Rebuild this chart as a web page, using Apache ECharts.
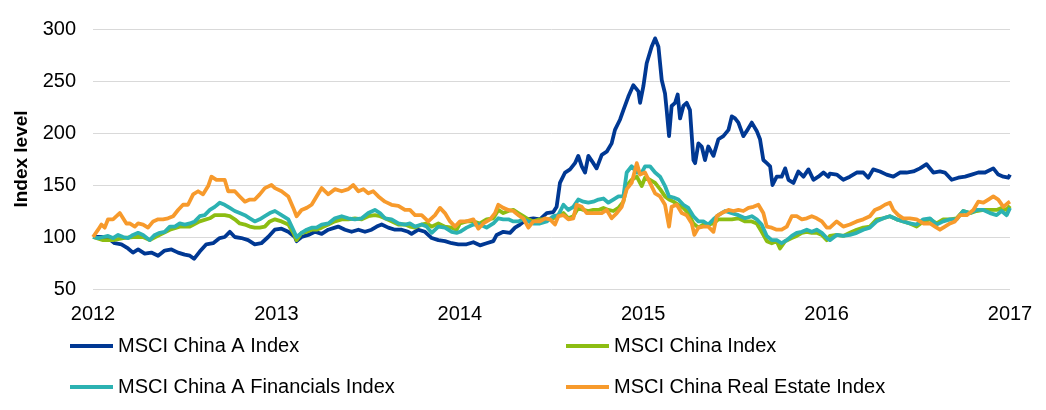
<!DOCTYPE html>
<html>
<head>
<meta charset="utf-8">
<script src="https://cdn.jsdelivr.net/npm/echarts@6/dist/echarts.min.js"></script>
<style>
html,body{margin:0;padding:0;background:#fff;}
#c{width:1046px;height:410px;}
</style>
</head>
<body>
<div id="c"></div>
<script>
// x values are fractional years, y values are index levels
const yearTicks = [2012, 2013, 2014, 2015, 2016, 2017];
const seriesNames = ['MSCI China A Index', 'MSCI China Index', 'MSCI China A Financials Index', 'MSCI China Real Estate Index'];

const chinaA = [
[2012.000,100],[2012.046,100],[2012.082,99],[2012.118,94],[2012.155,93],[2012.191,89],[2012.218,85],[2012.246,88],[2012.282,84],[2012.318,85],[2012.355,82],[2012.391,87],[2012.428,88],[2012.464,85],[2012.500,83],[2012.528,82],[2012.551,79],[2012.582,86],[2012.618,93],[2012.655,94],[2012.691,99],[2012.718,100],[2012.746,105],[2012.773,100],[2012.809,99],[2012.846,97],[2012.882,93],[2012.918,94],[2012.955,100],[2012.991,107],
[2013.028,108],[2013.065,105],[2013.101,100],[2013.110,96],[2013.137,100],[2013.174,102],[2013.210,105],[2013.247,103],[2013.283,107],[2013.319,109],[2013.337,110],[2013.374,107],[2013.410,105],[2013.447,107],[2013.483,105],[2013.519,107],[2013.547,110],[2013.574,112],[2013.610,109],[2013.647,107],[2013.683,107],[2013.719,105],[2013.737,103],[2013.774,107],[2013.810,105],[2013.847,99],[2013.883,97],[2013.919,96],[2013.956,94],[2013.992,93],
[2014.037,93],[2014.074,95],[2014.110,92],[2014.146,94],[2014.183,96],[2014.201,102],[2014.237,105],[2014.274,104],[2014.301,109],[2014.328,112],[2014.365,117],[2014.401,118],[2014.437,117],[2014.474,123],[2014.510,124],[2014.528,129],[2014.546,152],[2014.574,162],[2014.601,165],[2014.628,171],[2014.646,178],[2014.665,168],[2014.683,162],[2014.701,178],[2014.728,171],[2014.746,166],[2014.774,179],[2014.801,182],[2014.828,190],[2014.846,203],[2014.874,213],[2014.892,222],[2014.919,235],[2014.946,246],[2014.974,240],[2014.983,229],[2015.001,245],[2015.019,267],[2015.046,283],[2015.065,291],
[2015.083,283],[2015.101,251],[2015.119,238],[2015.128,222],[2015.141,197],[2015.155,226],[2015.174,229],[2015.188,237],[2015.201,214],[2015.219,226],[2015.237,229],[2015.255,222],[2015.274,174],[2015.283,171],[2015.301,190],[2015.319,187],[2015.337,174],[2015.355,187],[2015.383,178],[2015.410,194],[2015.437,197],[2015.465,203],[2015.483,216],[2015.501,214],[2015.519,210],[2015.546,197],[2015.565,202],[2015.592,210],[2015.619,202],[2015.637,194],[2015.655,174],[2015.674,171],[2015.692,168],[2015.705,150],[2015.728,158],[2015.755,158],[2015.774,166],[2015.792,155],[2015.819,152],[2015.846,163],[2015.874,158],[2015.901,165],[2015.928,155],[2015.955,158],[2015.983,162],[2016.010,158],
[2016.018,161],[2016.055,160],[2016.091,155],[2016.127,158],[2016.164,162],[2016.200,162],[2016.227,157],[2016.254,165],[2016.291,163],[2016.327,160],[2016.364,158],[2016.400,162],[2016.436,162],[2016.473,163],[2016.509,166],[2016.545,170],[2016.582,162],[2016.618,163],[2016.645,162],[2016.682,155],[2016.718,157],[2016.755,158],[2016.791,160],[2016.827,162],[2016.864,162],[2016.909,166],[2016.936,160],[2016.964,158],[2016.991,157],[2017.000,160]
];

const china = [
[2012.000,100],[2012.055,97],[2012.109,97],[2012.164,99],[2012.218,100],[2012.273,100],[2012.309,97],[2012.364,102],[2012.419,107],[2012.473,110],[2012.528,110],[2012.582,115],[2012.637,118],[2012.664,121],[2012.691,121],[2012.718,121],[2012.746,120],[2012.773,117],[2012.800,113],[2012.828,112],[2012.855,110],[2012.882,109],[2012.909,109],[2012.937,110],[2012.964,115],
[2012.992,117],[2013.028,115],[2013.065,112],[2013.092,104],[2013.110,97],[2013.137,104],[2013.165,105],[2013.192,107],[2013.219,107],[2013.247,109],[2013.283,112],[2013.319,115],[2013.356,117],[2013.392,117],[2013.428,118],[2013.465,117],[2013.501,120],[2013.537,121],[2013.565,120],[2013.592,118],[2013.628,115],[2013.665,112],[2013.701,112],[2013.728,110],[2013.756,109],[2013.792,112],[2013.819,113],[2013.847,110],[2013.883,113],[2013.919,110],[2013.956,109],[2013.983,107],
[2014.001,113],[2014.037,115],[2014.074,115],[2014.110,113],[2014.146,117],[2014.183,118],[2014.210,126],[2014.237,123],[2014.265,125],[2014.292,126],[2014.319,123],[2014.346,120],[2014.374,117],[2014.401,115],[2014.437,117],[2014.474,117],[2014.510,118],[2014.537,120],[2014.565,123],[2014.592,118],[2014.619,120],[2014.646,128],[2014.674,126],[2014.701,125],[2014.728,126],[2014.756,126],[2014.783,128],[2014.810,126],[2014.837,125],[2014.865,128],[2014.892,134],[2014.910,149],[2014.937,155],[2014.965,158],[2014.992,149],
[2015.010,157],[2015.037,155],[2015.065,152],[2015.092,146],[2015.119,139],[2015.141,136],[2015.165,134],[2015.192,131],[2015.219,128],[2015.246,123],[2015.274,113],[2015.301,109],[2015.328,112],[2015.355,112],[2015.383,113],[2015.410,117],[2015.446,117],[2015.483,117],[2015.519,118],[2015.556,115],[2015.592,115],[2015.619,113],[2015.646,105],[2015.674,96],[2015.701,94],[2015.728,96],[2015.746,89],[2015.774,96],[2015.810,99],[2015.837,101],[2015.865,104],[2015.892,105],[2015.919,104],[2015.946,104],[2015.974,102],[2016.001,97],
[2016.018,101],[2016.055,102],[2016.091,101],[2016.127,104],[2016.164,107],[2016.200,109],[2016.236,110],[2016.273,117],[2016.309,118],[2016.345,120],[2016.382,117],[2016.418,115],[2016.454,113],[2016.491,110],[2016.527,115],[2016.564,117],[2016.600,113],[2016.636,117],[2016.673,117],[2016.709,118],[2016.745,125],[2016.782,123],[2016.818,125],[2016.855,126],[2016.891,126],[2016.927,126],[2016.954,128],[2016.982,126],[2017.000,130]
];

const chinaAFin = [
[2012.000,100],[2012.028,99],[2012.055,100],[2012.082,101],[2012.109,99],[2012.137,102],[2012.164,100],[2012.191,99],[2012.218,102],[2012.246,104],[2012.273,102],[2012.309,97],[2012.337,102],[2012.364,104],[2012.391,105],[2012.419,110],[2012.446,110],[2012.473,113],[2012.500,112],[2012.528,113],[2012.555,115],[2012.582,120],[2012.609,121],[2012.637,126],[2012.664,129],[2012.691,133],[2012.718,131],[2012.746,128],[2012.773,125],[2012.800,123],[2012.828,121],[2012.855,118],[2012.882,115],[2012.909,117],[2012.937,120],[2012.964,123],
[2012.992,125],[2013.028,121],[2013.065,117],[2013.092,107],[2013.110,100],[2013.137,104],[2013.165,107],[2013.192,109],[2013.219,109],[2013.247,112],[2013.283,113],[2013.319,118],[2013.356,120],[2013.392,118],[2013.428,117],[2013.465,118],[2013.501,123],[2013.537,126],[2013.565,123],[2013.592,118],[2013.628,117],[2013.665,113],[2013.701,112],[2013.728,113],[2013.756,110],[2013.792,112],[2013.819,110],[2013.847,104],[2013.883,110],[2013.919,109],[2013.956,105],[2013.983,104],
[2014.001,105],[2014.037,109],[2014.074,112],[2014.110,112],[2014.146,109],[2014.183,113],[2014.210,118],[2014.237,117],[2014.265,117],[2014.292,115],[2014.319,115],[2014.346,117],[2014.374,115],[2014.401,113],[2014.437,113],[2014.474,115],[2014.510,120],[2014.537,121],[2014.565,131],[2014.592,126],[2014.619,129],[2014.646,136],[2014.674,134],[2014.701,133],[2014.728,134],[2014.756,136],[2014.783,137],[2014.810,133],[2014.837,136],[2014.865,139],[2014.892,139],[2014.910,162],[2014.937,168],[2014.965,162],[2014.992,162],
[2015.010,168],[2015.037,168],[2015.065,162],[2015.092,158],[2015.119,149],[2015.141,139],[2015.165,138],[2015.192,136],[2015.219,131],[2015.246,128],[2015.274,120],[2015.301,115],[2015.328,115],[2015.355,112],[2015.383,117],[2015.410,121],[2015.446,125],[2015.483,123],[2015.519,121],[2015.556,118],[2015.592,120],[2015.619,117],[2015.646,112],[2015.674,101],[2015.701,97],[2015.728,97],[2015.755,94],[2015.783,97],[2015.810,101],[2015.837,104],[2015.865,105],[2015.892,107],[2015.919,105],[2015.946,107],[2015.974,104],[2016.001,99],
[2016.018,97],[2016.055,102],[2016.091,101],[2016.127,102],[2016.164,104],[2016.200,107],[2016.236,109],[2016.273,115],[2016.309,118],[2016.345,120],[2016.382,117],[2016.418,115],[2016.454,113],[2016.491,112],[2016.527,117],[2016.564,118],[2016.600,112],[2016.636,115],[2016.673,117],[2016.709,117],[2016.745,125],[2016.782,123],[2016.818,126],[2016.855,126],[2016.891,123],[2016.927,121],[2016.954,125],[2016.982,121],[2017.000,128]
];

const chinaRealEstate = [
[2012.000,100],[2012.028,107],[2012.046,112],[2012.064,109],[2012.082,117],[2012.109,117],[2012.128,120],[2012.146,123],[2012.164,118],[2012.182,113],[2012.200,113],[2012.228,110],[2012.246,113],[2012.273,112],[2012.300,109],[2012.328,115],[2012.355,117],[2012.382,117],[2012.409,118],[2012.437,120],[2012.464,126],[2012.491,131],[2012.518,131],[2012.546,141],[2012.573,144],[2012.600,141],[2012.628,149],[2012.646,158],[2012.673,155],[2012.700,155],[2012.718,155],[2012.737,144],[2012.773,144],[2012.800,139],[2012.828,134],[2012.855,136],[2012.882,136],[2012.909,141],[2012.937,147],[2012.973,150],
[2012.992,147],[2013.028,144],[2013.065,139],[2013.092,128],[2013.110,120],[2013.137,126],[2013.165,128],[2013.192,131],[2013.219,139],[2013.247,147],[2013.283,141],[2013.319,146],[2013.356,144],[2013.392,146],[2013.419,150],[2013.447,144],[2013.474,146],[2013.501,142],[2013.528,144],[2013.556,139],[2013.592,134],[2013.628,131],[2013.665,130],[2013.701,126],[2013.728,126],[2013.756,121],[2013.792,121],[2013.828,115],[2013.865,121],[2013.892,128],[2013.919,123],[2013.947,115],[2013.974,110],
[2014.001,115],[2014.037,115],[2014.074,117],[2014.101,108],[2014.128,113],[2014.165,117],[2014.192,123],[2014.210,131],[2014.237,128],[2014.265,126],[2014.292,125],[2014.319,121],[2014.346,118],[2014.374,109],[2014.401,115],[2014.437,115],[2014.465,118],[2014.492,117],[2014.519,112],[2014.537,120],[2014.565,121],[2014.592,117],[2014.619,118],[2014.637,131],[2014.665,129],[2014.692,123],[2014.719,123],[2014.746,123],[2014.774,123],[2014.801,126],[2014.828,118],[2014.856,123],[2014.883,129],[2014.910,146],[2014.937,152],[2014.965,171],[2014.983,160],[2015.010,162],
[2015.037,152],[2015.065,142],[2015.092,139],[2015.119,131],[2015.141,110],[2015.155,129],[2015.183,131],[2015.210,123],[2015.237,121],[2015.265,113],[2015.279,102],[2015.301,109],[2015.328,110],[2015.355,110],[2015.383,105],[2015.401,120],[2015.428,123],[2015.465,126],[2015.492,125],[2015.519,126],[2015.546,125],[2015.574,128],[2015.601,129],[2015.628,131],[2015.655,123],[2015.674,110],[2015.701,109],[2015.728,107],[2015.755,107],[2015.783,110],[2015.810,120],[2015.837,120],[2015.865,117],[2015.892,118],[2015.919,120],[2015.946,118],[2015.974,115],[2016.001,109],
[2016.018,109],[2016.055,115],[2016.091,110],[2016.127,112],[2016.164,115],[2016.200,117],[2016.236,120],[2016.263,126],[2016.291,128],[2016.318,131],[2016.345,133],[2016.364,126],[2016.391,121],[2016.418,118],[2016.454,118],[2016.491,117],[2016.527,113],[2016.564,113],[2016.591,110],[2016.618,107],[2016.645,110],[2016.673,113],[2016.700,115],[2016.727,121],[2016.764,121],[2016.800,126],[2016.827,134],[2016.855,133],[2016.882,136],[2016.909,139],[2016.936,136],[2016.964,129],[2016.991,133],[2017.000,134]
];

const colors = ['#003893', '#8cbd12', '#2cb2b2', '#f79a2c'];
const font = '"Liberation Sans", Arial, sans-serif';

const chart = echarts.init(document.getElementById('c'), null, {renderer: 'canvas'});

function lineSeries(name, data, color) {
  return {
    name: name, type: 'line', data: data, showSymbol: false, symbol: 'none',
    smooth: false, animation: false,
    lineStyle: {color: color, width: 3.8, join: 'round'},
    itemStyle: {color: color},
    emphasis: {disabled: true}
  };
}

const legendCommon = {
  orient: 'vertical', icon: 'rect', itemWidth: 43, itemHeight: 4,
  itemGap: 21, padding: 0, top: 336,
  textStyle: {fontFamily: font, fontSize: 20, color: '#000'},
  selectedMode: false
};

chart.setOption({
  backgroundColor: '#fff',
  animation: false,
  color: colors,
  grid: {left: 93, right: 36, top: 29, bottom: 121, containLabel: false},
  legend: [
    Object.assign({}, legendCommon, {left: 70, data: [seriesNames[0], seriesNames[2]]}),
    Object.assign({}, legendCommon, {left: 566, data: [seriesNames[1], seriesNames[3]]})
  ],
  xAxis: {
    type: 'value', min: yearTicks[0], max: yearTicks[yearTicks.length - 1], interval: 1,
    axisLine: {show: false}, axisTick: {show: false}, splitLine: {show: false},
    axisLabel: {
      fontFamily: font, fontSize: 20, color: '#000', margin: 15,
      formatter: function (v) { return String(Math.round(v)); }
    }
  },
  yAxis: {
    type: 'value', min: 50, max: 300, interval: 50,
    name: 'Index level', nameLocation: 'middle', nameGap: 58, nameRotate: 90,
    nameTextStyle: {fontFamily: font, fontSize: 19, fontWeight: 'bold', color: '#000'},
    axisLine: {show: false}, axisTick: {show: false},
    splitLine: {show: true, lineStyle: {color: '#d9d9d9', width: 1}},
    axisLabel: {fontFamily: font, fontSize: 20, color: '#000', margin: 17}
  },
  series: [
    lineSeries(seriesNames[0], chinaA, colors[0]),
    lineSeries(seriesNames[1], china, colors[1]),
    lineSeries(seriesNames[2], chinaAFin, colors[2]),
    lineSeries(seriesNames[3], chinaRealEstate, colors[3])
  ]
});
</script>
</body>
</html>
